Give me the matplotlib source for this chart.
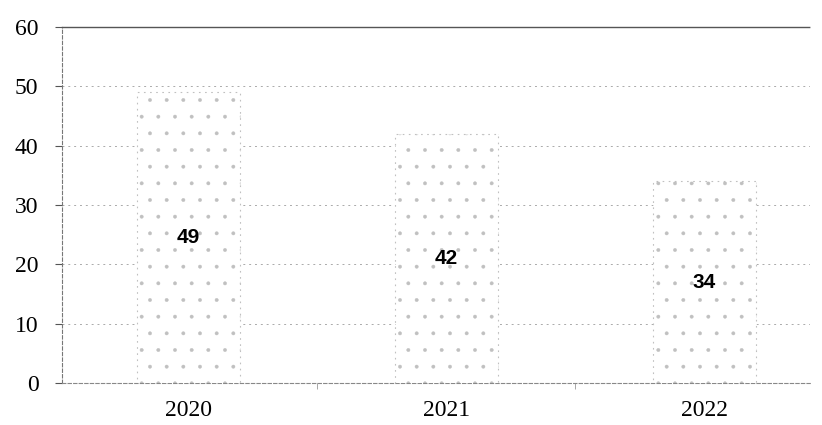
import matplotlib
matplotlib.use("Agg")
import matplotlib.pyplot as plt

categories = ["2020", "2021", "2022"]
values = [49, 42, 34]
yticks = [0, 10, 20, 30, 40, 50, 60]

plt.rcParams['hatch.color'] = '#e4e4e4'
plt.rcParams['hatch.linewidth'] = 0.3

fig = plt.figure(figsize=(8.22, 4.25), dpi=100)
ax = fig.add_axes([62/822, 42/425, 748/822, 356/425])

x = list(range(len(categories)))
bars = ax.bar(x, values, width=0.4, color='white', edgecolor='#c0c0c0',
              linewidth=0.8, linestyle=(0, (1.5, 4)), hatch='.', zorder=3)

for xi, v in zip(x, values):
    ax.text(xi, v / 2, str(v), ha='center', va='center', fontsize=15,
            fontweight='bold', family='Liberation Sans', color='black', zorder=4)

ax.set_xlim(-0.49, 2.41)
ax.set_ylim(0, 60)
ax.set_yticks(yticks)
ax.set_yticklabels([str(t) for t in yticks], family='Liberation Serif', fontsize=17)
ax.set_xticks(x)
ax.set_xticklabels(categories, family='Liberation Serif', fontsize=17)
ax.tick_params(axis='x', length=0, pad=12)
ax.tick_params(axis='y', length=5, width=0.8, color='#555555', pad=12)
ax.set_xticks([0.5, 1.5], minor=True)
ax.tick_params(axis='x', which='minor', length=4, width=0.6, color='#999999')

ax.yaxis.grid(True, color='#aaaaaa', linestyle=(0, (2, 4)), linewidth=0.7, zorder=1)
ax.set_axisbelow(True)

ax.spines['right'].set_visible(False)
ax.spines['top'].set_color('#555555')
ax.spines['top'].set_linewidth(1.0)
ax.spines['top'].set_linestyle((0, (6, 1)))
ax.spines['left'].set_color('#777777')
ax.spines['left'].set_linestyle((0, (3, 2)))
ax.spines['left'].set_linewidth(0.8)
ax.spines['bottom'].set_color('#888888')
ax.spines['bottom'].set_linestyle((0, (3, 2)))
ax.spines['bottom'].set_linewidth(0.8)

fig.savefig("out.png", dpi=100)
